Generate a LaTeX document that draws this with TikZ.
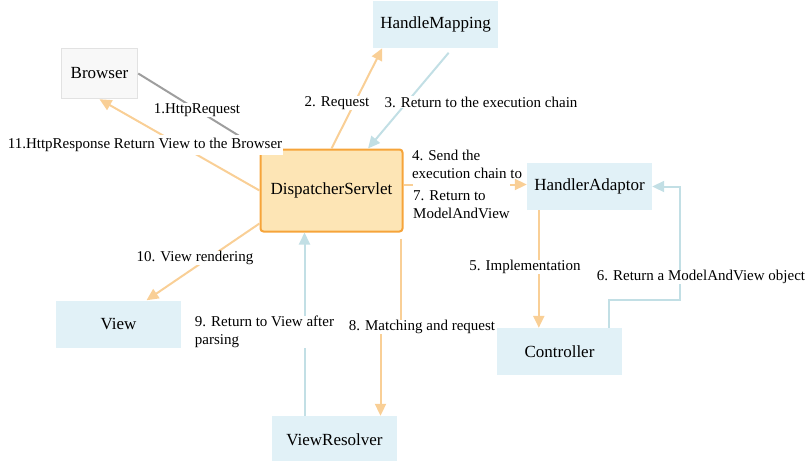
\documentclass[tikz,border=0pt]{standalone}
\usepackage{fontspec}
\setmainfont{Liberation Serif}
\usepackage{xcolor}
\usepackage{tikz}
\usetikzlibrary{shapes,arrows.meta}

\definecolor{boxblue}{HTML}{E1F1F7}
\definecolor{lineblue}{HTML}{C2DFE5}
\definecolor{lineorange}{HTML}{F9CF96}
\definecolor{dsfill}{HTML}{FDE5B5}
\definecolor{dsdraw}{HTML}{F6A43A}
\definecolor{brfill}{HTML}{F8F8F8}
\definecolor{brdraw}{HTML}{E2E2E2}
\definecolor{reqgray}{HTML}{9E9E9E}

\begin{document}
\begin{tikzpicture}[x=1pt, y=-1pt,
		comp/.style={rectangle, fill=boxblue, minimum width=125pt, minimum height=47pt, font=\fontsize{17}{20}\selectfont},
		lbl/.style={fill=white, inner sep=0.5pt, align=left, font=\fontsize{15}{18}\selectfont},
		go/.style={draw=lineorange, line width=2pt, -{Triangle[width=11pt,length=12pt]}},
		back/.style={draw=lineblue, line width=2pt, -{Triangle[width=11pt,length=12pt]}}]
		\useasboundingbox (0,0) rectangle (810,460);

		\node (br)[rectangle, fill=brfill, draw=brdraw, line width=1.5pt, minimum width=76pt, minimum height=50pt, font=\fontsize{17}{20}\selectfont] at (99.5,73.5) {Browser};
		\node (hm)[comp] at (435.5,24.5) {HandleMapping};
		\node (ds)[rectangle, rounded corners=3pt, fill=dsfill, draw=dsdraw, line width=2pt, minimum width=142pt, minimum height=82pt, font=\fontsize{17}{20}\selectfont] at (331.5,190.5) {DispatcherServlet};
		\node (ha)[comp] at (589.5,186.5) {HandlerAdaptor};
		\node (vw)[comp] at (118.5,324) {View};
		\node (ct)[comp] at (559.5,351.5) {Controller};
		\node (vr)[comp] at (334.5,439.5) {ViewResolver};

		\draw[draw=reqgray, line width=2pt, -{Triangle[width=11pt,length=12pt]}] (br.east) -- (ds.north west);
		\draw[go] (ds.north) -- (hm.204);
		\draw[back, shorten <=6pt] ([xshift=17pt]hm.south) -- (ds.49);
		\draw[go] ([yshift=2pt]ha.west -| ds.east) -- ([yshift=2pt]ha.west);
		\draw[go] ([xshift=12pt]ha.south west) -- ([xshift=12pt]ha.south west |- ct.north);
		\draw[back] ([xshift=-13pt]ct.north east) -- ++(0,-28) -| ([xshift=28pt]ha.east) -- (ha.east);
		\draw[go, shorten <=6pt] ([xshift=-3pt]ds.south east) -- ++(0,95) -| ([xshift=46pt]vr.north);
		\draw[back] ([xshift=-30pt]vr.north) -- ([xshift=-30pt]vr.north |- ds.south);
		\draw[go] ([yshift=9pt]ds.south west) -- ([xshift=28pt]vw.north);
		\draw[go] (ds.west) -- (br.south);

		\node (l1)[lbl] at (197,110) {1.HttpRequest};
		\node (l2)[lbl] at (337,103) {2. Request};
		\node (l3)[lbl] at (481,102) {3. Return to the execution chain};
		\node (l4)[lbl] at (467,164) {4. Send the\\execution chain to};
		\node (l5)[lbl] at (525,267) {5. Implementation};
		\node (l6)[lbl] at (701,277) {6. Return a ModelAndView object};
		\node (l7)[lbl, inner ysep=7pt] at (461.5,205) {7. Return to\\ModelAndView};
		\node (l8)[lbl] at (422,327) {8. Matching and request};
		\node (l9)[lbl] at (264.5,332) {9. Return to View after\\parsing};
		\node (l10)[lbl] at (195,258) {10. View rendering};
		\node (l11)[lbl, inner ysep=3pt] at (145,145) {11.HttpResponse Return View to the Browser};
\end{tikzpicture}
\end{document}
